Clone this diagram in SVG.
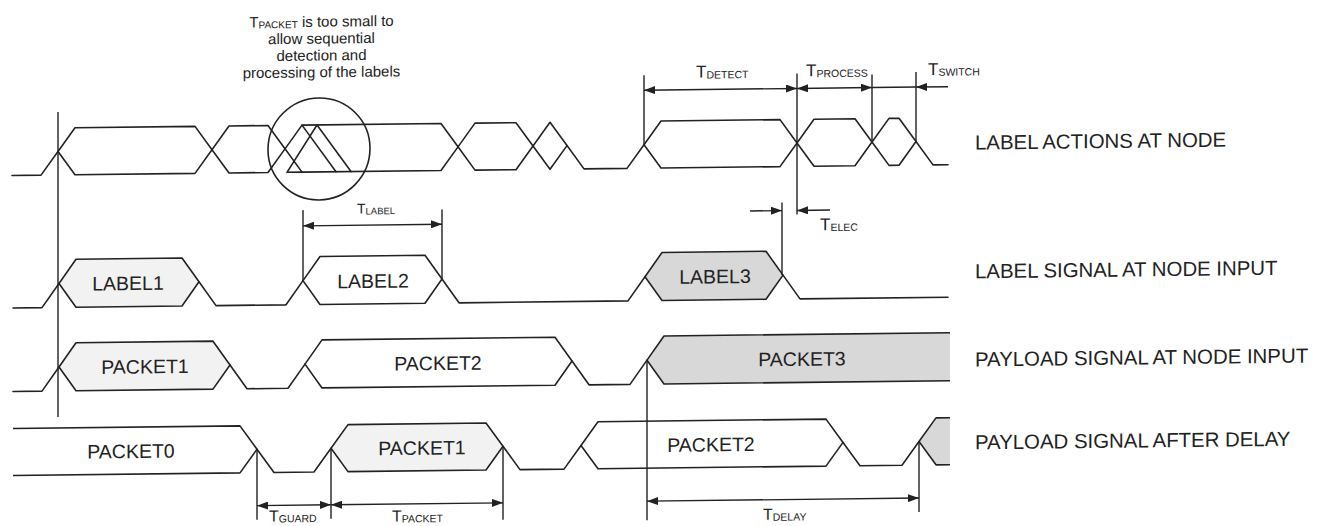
<svg xmlns="http://www.w3.org/2000/svg" width="1327" height="526" viewBox="0 0 1327 526">
  <style>
    .w { fill: none; stroke: #222; stroke-width: 1.6; stroke-linejoin: round; stroke-linecap: round; }
    .hw { fill: #ffffff; stroke: #222; stroke-width: 1.6; stroke-linejoin: round; }
    .hl { fill: #f2f2f2; stroke: #222; stroke-width: 1.6; stroke-linejoin: round; }
    .hg { fill: #d8d8d8; stroke: #222; stroke-width: 1.6; stroke-linejoin: round; }
    .dim { fill: none; stroke: #222; stroke-width: 1.4; }
    .arr { fill: none; stroke: #222; stroke-width: 1.4; marker-start: url(#ah); marker-end: url(#ah); }
    .arr1 { fill: none; stroke: #222; stroke-width: 1.4; marker-end: url(#ah); }
    .t { font-family: "Liberation Sans", Arial, Helvetica, sans-serif; fill: #222; }
    .lbl { font-size: 19.5px; text-anchor: middle; }
    .side { font-size: 20.4px; }
  </style>
  <defs>
    <marker id="ah" viewBox="0 0 11 8" refX="11" refY="4" markerWidth="11" markerHeight="8" markerUnits="userSpaceOnUse" orient="auto-start-reverse">
      <path d="M0,0 L11,4 L0,8 z" fill="#222"/>
    </marker>
  </defs>
  <rect x="0" y="0" width="1327" height="526" fill="#ffffff"/>
  <g transform="translate(0 7.62) skewY(-0.66)">
    <g id="row-label-actions">
      <path class="w" d="M12,168 H41 L58,144.5"/>
      <polygon class="hw" points="58,144.5 75,121 195,121 212,144.5 195,168 75,168"/>
      <polygon class="hw" points="212,144.5 229,121 268,121 285,144.5 268,168 229,168"/>
      <polygon class="hw" points="285,144.5 302,121 441,121 458,144.5 441,168 302,168"/>
      <path class="w" d="M287,168 H302 M287,168 L317,121 M302,121 L336,168 M317,121 L351,168"/>
      <polygon class="hw" points="458,144.5 475,121 516,121 533,144.5 516,168 475,168"/>
      <polygon class="hw" points="533,144.5 550,121 567,144.5 550,168"/>
      <path class="w" d="M567,144.5 L584,168 H627 L644,144.5"/>
      <polygon class="hw" points="644,144.5 661,121 780,121 797,144.5 780,168 661,168"/>
      <polygon class="hw" points="797,144.5 814,121 855,121 872,144.5 855,168 814,168"/>
      <polygon class="hw" points="872,144.5 889,121 899,121 916,144.5 899,168 889,168"/>
      <path class="w" d="M916,144.5 L933,168 H948"/>
      <circle class="w" cx="319" cy="145" r="51"/>
    </g>
    <g id="row-label-signal">
      <path class="w" d="M13,300.5 H42 L59,276.5"/>
      <polygon class="hl" points="59,276.5 76,252.5 182,252.5 199,276.5 182,300.5 76,300.5"/>
      <path class="w" d="M199,276.5 L216,300.5 H286 L303,276.5"/>
      <polygon class="hw" points="303,276.5 320,252.5 425,252.5 442,276.5 425,300.5 320,300.5"/>
      <path class="w" d="M442,276.5 L459,300.5 H628 L645,276.5"/>
      <polygon class="hg" points="645,276.5 662,252.5 766,252.5 783,276.5 766,300.5 662,300.5"/>
      <path class="w" d="M783,276.5 L800,300.5 H948"/>
      <text class="t lbl" x="128" y="284">LABEL1</text>
      <text class="t lbl" x="373" y="284.5">LABEL2</text>
      <text class="t lbl" x="715" y="284">LABEL3</text>
    </g>
    <g id="row-payload-input">
      <path class="w" d="M13,384 H42 L59,360"/>
      <polygon class="hl" points="59,360 76,336 213,336 230,360 213,384 76,384"/>
      <path class="w" d="M230,360 L247,384 H288 L305,360"/>
      <polygon class="hw" points="305,360 322,336 555,336 572,360 555,384 322,384"/>
      <path class="w" d="M572,360 L589,384 H630 L647,360"/>
      <path class="hg" d="M950,336 H664 L647,360 L664,384 H950"/>
      <text class="t lbl" x="145" y="367.5">PACKET1</text>
      <text class="t lbl" x="438" y="367.5">PACKET2</text>
      <text class="t lbl" x="802" y="367.5">PACKET3</text>
    </g>
    <g id="row-payload-delay">
      <path class="hw" d="M13,421 H240 L257,444.5 L240,468 H13"/>
      <path class="w" d="M257,444.5 L274,468 H314 L331,444.5"/>
      <polygon class="hl" points="331,444.5 348,421 486,421 503,444.5 486,468 348,468"/>
      <path class="w" d="M503,444.5 L520,468 H564 L581,444.5"/>
      <polygon class="hw" points="581,444.5 598,421 826,421 843,444.5 826,468 598,468"/>
      <path class="w" d="M843,444.5 L860,468 H902 L919,444.5"/>
      <path class="hg" d="M950,421 H936 L919,444.5 L936,468 H950"/>
      <text class="t lbl" x="131" y="452">PACKET0</text>
      <text class="t lbl" x="422" y="452">PACKET1</text>
      <text class="t lbl" x="711" y="452">PACKET2</text>
    </g>
    <g id="connectors">
      <path class="dim" d="M58,105 V410"/>
      <path class="dim" d="M644,75 V144.5 M797,75 V216 M872,77 V144.5 M916,75 V144.5"/>
      <path class="arr" d="M644,90 H797"/>
      <path class="arr" d="M797,90 H872"/>
      <path class="dim" d="M872,90 H916"/>
      <path class="arr1" d="M948,90 H916"/>
      <path class="dim" d="M303,206 V276.5 M442,207 V276.5"/>
      <path class="arr" d="M303,221.7 H442"/>
      <path class="dim" d="M782,204 V276.5"/>
      <path class="arr1" d="M750,212 H782"/>
      <path class="arr1" d="M830,212 H797"/>
      <path class="dim" d="M257,444.5 V515 M331,444.5 V515 M503,444.5 V518 M647,360 V520 M919,444.5 V515"/>
      <path class="arr" d="M257,501 H331"/>
      <path class="arr" d="M331,501 H503"/>
      <path class="arr" d="M647,501 H919"/>
    </g>
    <g id="annotation-note">
      <text class="t" x="321.5" y="22.8" font-size="15" text-anchor="middle">T<tspan font-size="10" dy="1">PACKET</tspan><tspan dy="-1"> is too small to</tspan></text>
      <text class="t" x="321.5" y="39.7" font-size="15" text-anchor="middle">allow sequential</text>
      <text class="t" x="321.5" y="56.6" font-size="15" text-anchor="middle">detection and</text>
      <text class="t" x="321.5" y="73.4" font-size="15" text-anchor="middle">processing of the labels</text>
    </g>
    <g id="timing-labels">
      <text class="t" x="696" y="78" font-size="17">T<tspan font-size="10.5" dy="1">DETECT</tspan></text>
      <text class="t" x="806" y="78" font-size="17">T<tspan font-size="10.5" dy="1">PROCESS</tspan></text>
      <text class="t" x="928" y="78" font-size="17">T<tspan font-size="10.5" dy="1">SWITCH</tspan></text>
      <text class="t" x="820" y="232" font-size="17">T<tspan font-size="10.5" dy="1">ELEC</tspan></text>
      <text class="t" x="357" y="210" font-size="14">T<tspan font-size="9.5" dy="1">LABEL</tspan></text>
      <text class="t" x="269" y="517" font-size="16">T<tspan font-size="10.5" dy="1">GUARD</tspan></text>
      <text class="t" x="392" y="518.5" font-size="16">T<tspan font-size="10.5" dy="1">PACKET</tspan></text>
      <text class="t" x="763" y="521" font-size="16">T<tspan font-size="10.5" dy="1">DELAY</tspan></text>
    </g>
    <g id="row-names">
      <text class="t side" x="975" y="153.2">LABEL ACTIONS AT NODE</text>
      <text class="t side" x="975" y="281.9">LABEL SIGNAL AT NODE INPUT</text>
      <text class="t side" x="975" y="370">PAYLOAD SIGNAL AT NODE INPUT</text>
      <text class="t side" x="975" y="453">PAYLOAD SIGNAL AFTER DELAY</text>
    </g>
  </g>
</svg>
